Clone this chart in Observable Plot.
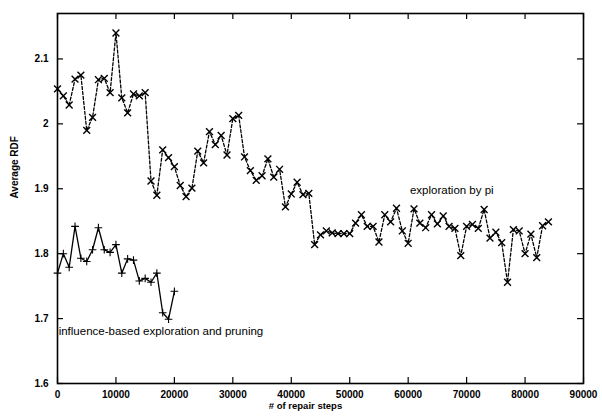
<!DOCTYPE html>
<html>
<head>
<meta charset="utf-8">
<script src="https://cdn.jsdelivr.net/npm/d3@7"></script>
<script src="https://cdn.jsdelivr.net/npm/@observablehq/plot@0.6"></script>
<style>
  html, body { margin: 0; padding: 0; background: #fff; overflow: hidden; }
</style>
</head>
<body>
<div id="chart"></div>
<script>
// repair steps for "exploration by pi"
const stepsPi = [0,1000,2000,3000,4000,5000,6000,7000,8000,9000,
  10000,11000,12000,13000,14000,15000,16000,17000,18000,19000,
  20000,21000,22000,23000,24000,25000,26000,27000,28000,29000,
  30000,31000,32000,33000,34000,35000,36000,37000,38000,39000,
  40000,41000,42000,43000,44000,45000,46000,47000,48000,49000,
  50000,51000,52000,53000,54000,55000,56000,57000,58000,59000,
  60000,61000,62000,63000,64000,65000,66000,67000,68000,69000,
  70000,71000,72000,73000,74000,75000,76000,77000,78000,79000,
  80000,81000,82000,83000,84000];
const rdfPi = [2.054,2.043,2.029,2.069,2.075,1.990,2.010,2.068,2.070,2.048,
  2.140,2.040,2.017,2.046,2.043,2.048,1.912,1.890,1.960,1.948,
  1.934,1.905,1.888,1.901,1.958,1.940,1.988,1.968,1.982,1.952,
  2.008,2.013,1.949,1.928,1.913,1.920,1.946,1.918,1.930,1.872,
  1.892,1.910,1.891,1.893,1.814,1.829,1.835,1.832,1.831,1.831,
  1.831,1.847,1.860,1.842,1.842,1.818,1.860,1.849,1.870,1.835,
  1.816,1.869,1.847,1.840,1.860,1.846,1.858,1.842,1.839,1.797,
  1.842,1.845,1.839,1.868,1.824,1.833,1.817,1.756,1.837,1.835,
  1.800,1.830,1.794,1.843,1.849];

// repair steps for "influence-based exploration and pruning"
const stepsInf = [0,1000,2000,3000,4000,5000,6000,7000,8000,9000,
  10000,11000,12000,13000,14000,15000,16000,17000,18000,19000,20000];
const rdfInf = [1.770,1.800,1.779,1.842,1.793,1.788,1.806,1.840,1.806,1.802,
  1.814,1.770,1.792,1.790,1.758,1.762,1.756,1.770,1.709,1.699,1.742];

const xTicks = [0,10000,20000,30000,40000,50000,60000,70000,80000,90000];
const yTicks = [1.6,1.7,1.8,1.9,2,2.1];
const seriesLabels = ["exploration by pi", "influence-based exploration and pruning"];
const xTitle = "# of repair steps";
const yTitle = "Average RDF";

const pi = stepsPi.map((s, i) => ({step: s, rdf: rdfPi[i]}));
const inf = stepsInf.map((s, i) => ({step: s, rdf: rdfInf[i]}));

const yMin = 1.6, yMax = 2.17, xMin = 0, xMax = 90000;
const tickLenY = 6 / 650;     // inward tick length in y data units
const tickLenX = 6 / 0.005844; // inward tick length in x data units

const chart = Plot.plot({
  width: 602,
  height: 417,
  marginLeft: 57,
  marginRight: 19,
  marginTop: 13,
  marginBottom: 34,
  style: {fontFamily: "'Liberation Sans', Arial, sans-serif", fontSize: "10px", background: "#fff", color: "#000"},
  x: {domain: [xMin, xMax]},
  y: {domain: [yMin, yMax]},
  marks: [
    Plot.axisX({ticks: xTicks, tickSize: 0, tickPadding: 7, tickFormat: d => String(d), label: null, fontSize: 10, fontWeight: 600}),
    Plot.axisY({ticks: yTicks, tickSize: 0, tickPadding: 9, tickFormat: d => String(d), label: null, fontSize: 10, fontWeight: 600}),
    // inward ticks on all four sides
    Plot.ruleX(xTicks, {x: d => d, y1: yMin, y2: yMin + tickLenY, stroke: "#000", strokeWidth: 1.2}),
    Plot.ruleX(xTicks, {x: d => d, y1: yMax, y2: yMax - tickLenY, stroke: "#000", strokeWidth: 1.2}),
    Plot.ruleY(yTicks, {y: d => d, x1: xMin, x2: xMin + tickLenX, stroke: "#000", strokeWidth: 1.2}),
    Plot.ruleY(yTicks, {y: d => d, x1: xMax, x2: xMax - tickLenX, stroke: "#000", strokeWidth: 1.2}),
    Plot.frame({stroke: "#000", strokeWidth: 1.6}),
    // exploration by pi: dashed with x markers
    Plot.line(pi, {x: "step", y: "rdf", stroke: "#000", strokeWidth: 1.3, strokeDasharray: "3,2"}),
    Plot.dot(pi, {x: "step", y: "rdf", symbol: "times", r: 3.2, stroke: "#000", strokeWidth: 1.4}),
    // influence-based: solid with + markers
    Plot.line(inf, {x: "step", y: "rdf", stroke: "#000", strokeWidth: 1.3}),
    Plot.dot(inf, {x: "step", y: "rdf", symbol: "plus", r: 2.6, stroke: "#000", strokeWidth: 1.1}),
    // series labels
    Plot.text([seriesLabels[0]], {x: 60300, y: 1.897, text: d => d, textAnchor: "start", fontSize: 11.5, fill: "#000"}),
    Plot.text([seriesLabels[1]], {x: 200, y: 1.68, text: d => d, textAnchor: "start", fontSize: 11.5, fill: "#000"}),
    // axis titles
    Plot.text([xTitle], {frameAnchor: "bottom", dx: -15, dy: 25, text: d => d, fontSize: 9.5, fontWeight: 600, fill: "#000"}),
    Plot.text([yTitle], {frameAnchor: "left", dx: -43, rotate: -90, text: d => d, fontSize: 10, fontWeight: 600, fill: "#000"})
  ]
});
document.getElementById("chart").appendChild(chart);
</script>
</body>
</html>
